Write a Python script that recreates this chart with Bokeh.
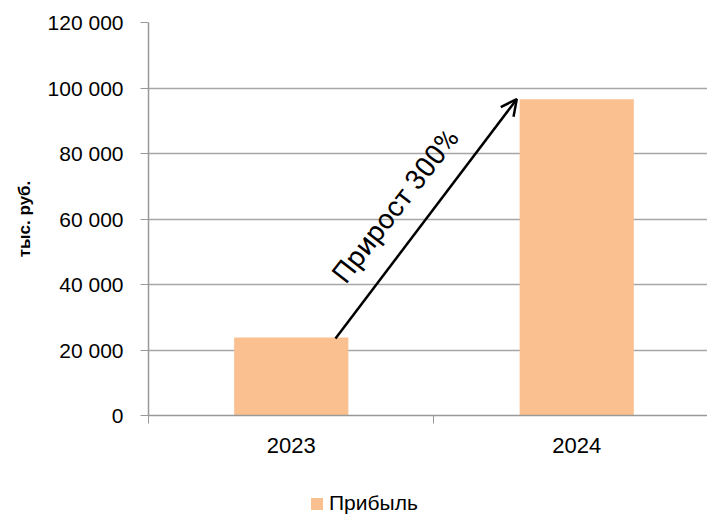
from bokeh.plotting import figure
from bokeh.layouts import column
from bokeh.models import (ColumnDataSource, Range1d, FixedTicker, Legend, LegendItem,
                          Arrow, OpenHead, Label)
from bokeh.embed import file_html
from bokeh.resources import INLINE

# ---- data ----
years = ["2023", "2024"]
profit = [23800, 96600]
y_ticks = [0, 20000, 40000, 60000, 80000, 100000, 120000]
y_tick_labels = ["0", "20 000", "40 000", "60 000", "80 000", "100 000", "120 000"]
growth_text = "Прирост 300%"
series_name = "Прибыль"
y_title = "тыс. руб."

FONT = "Liberation Sans"
BAR_COLOR = "#FAC090"
bar_width = 0.4
x_pos = [i + 0.5 for i in range(len(years))]

src = ColumnDataSource(dict(x=x_pos, top=profit, year=years))

p = figure(width=707, height=466, output_backend="svg", toolbar_location=None,
           x_range=Range1d(0, 1.958), y_range=Range1d(0, 120000),
           min_border_left=148, min_border_right=0, min_border_top=22,
           min_border_bottom=51)
p.outline_line_color = None
p.background_fill_color = "white"
p.border_fill_color = "white"

r = p.vbar(x="x", top="top", width=bar_width, source=src,
           fill_color=BAR_COLOR, line_color=None)

# axes
p.xaxis.ticker = FixedTicker(ticks=x_pos, minor_ticks=list(range(len(years) + 1)))
p.xaxis.major_label_overrides = {x: y for x, y in zip(x_pos, years)}
p.xaxis.major_tick_out = 0
p.xaxis.major_tick_in = 0
p.xaxis.minor_tick_out = 8
p.xaxis.minor_tick_in = 0
p.xaxis.minor_tick_line_color = "#999999"
p.xaxis.axis_line_color = "#999999"
p.xaxis.axis_line_width = 1.5
p.xaxis.major_label_text_font = FONT
p.xaxis.major_label_text_font_size = "22px"
p.xaxis.major_label_text_color = "black"
p.xaxis.major_label_standoff = 14

p.yaxis.ticker = FixedTicker(ticks=y_ticks)
p.yaxis.major_label_overrides = {t: l for t, l in zip(y_ticks, y_tick_labels)}
p.yaxis.major_tick_out = 8
p.yaxis.major_tick_in = 0
p.yaxis.minor_tick_line_color = None
p.yaxis.major_tick_line_color = "#999999"
p.yaxis.axis_line_color = "#999999"
p.yaxis.axis_line_width = 1.5
p.yaxis.major_label_text_font = FONT
p.yaxis.major_label_text_font_size = "21px"
p.yaxis.major_label_text_color = "black"
p.yaxis.major_label_standoff = 17
p.yaxis.axis_label = y_title
p.yaxis.axis_label_text_font = FONT
p.yaxis.axis_label_text_font_size = "17px"
p.yaxis.axis_label_text_font_style = "bold"
p.yaxis.axis_label_text_color = "black"
p.yaxis.axis_label_standoff = 11

p.xgrid.grid_line_color = None
p.ygrid.grid_line_color = "#A6A6A6"
p.ygrid.grid_line_width = 1.5

# growth arrow from top of first bar to top of second bar
x0 = x_pos[0] + bar_width / 2 - 0.045
x1 = x_pos[1] - bar_width / 2 - 0.01
p.add_layout(Arrow(end=OpenHead(size=16, line_width=2.5, line_color="black"),
                   x_start=x0, y_start=profit[0] - 300,
                   x_end=x1, y_end=profit[1],
                   line_width=2.5, line_color="black"))
p.add_layout(Label(x=0.865, y=64000, text=growth_text, angle=0.91,
                   text_align="center", text_baseline="middle",
                   text_font="Roboto", text_font_size="28px", text_color="black"))

# legend strip below the chart (same series, its bars lie outside this strip's view)
pl = figure(width=707, height=50, output_backend="svg", toolbar_location=None,
            x_range=Range1d(100, 101), y_range=Range1d(-2, -1),
            x_axis_location=None, y_axis_location=None,
            min_border_left=0, min_border_right=0, min_border_top=0,
            min_border_bottom=0)
pl.outline_line_color = None
pl.xgrid.visible = False
pl.ygrid.visible = False
lr = pl.vbar(x="x", top="top", width=bar_width, source=src,
             fill_color=BAR_COLOR, line_color=None)
legend = Legend(items=[LegendItem(label=series_name, renderers=[lr])],
                orientation="horizontal", location=(161, 1),
                label_text_font=FONT, label_text_font_size="21px",
                label_text_color="black", glyph_width=15, glyph_height=15,
                border_line_color=None, background_fill_alpha=0,
                padding=0, margin=0, label_standoff=5)
pl.add_layout(legend)

layout = column(p, pl, spacing=0)
open("out.html", "w").write(file_html(layout, INLINE))
